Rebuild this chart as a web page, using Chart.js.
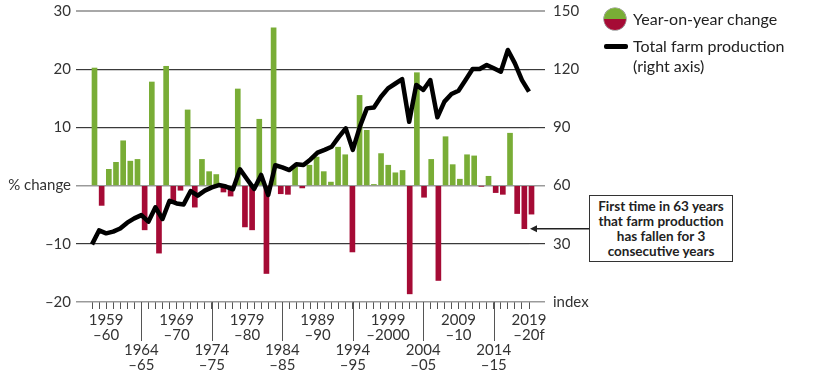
<!DOCTYPE html>
<html>
<head>
<meta charset="utf-8">
<script src="https://cdn.jsdelivr.net/npm/chart.js@4/dist/chart.umd.min.js"></script>
<style>
  html, body { margin: 0; padding: 0; background: #fff; }
  #wrap { position: relative; width: 816px; height: 380px; overflow: hidden; font-family: Lato, "Open Sans", sans-serif; color: #222; }
  #c { position: absolute; left: 0; top: 0; }
  .lg-dot { position: absolute; left: 604px; top: 8px; width: 22px; height: 22px; border-radius: 50%;
            background: linear-gradient(#79AD36 0, #79AD36 50%, #A50B35 50%, #A50B35 100%); box-shadow: 0 0 0 0.6px #777; }
  .lg-line { position: absolute; left: 604px; top: 44px; width: 24px; height: 5px; border-radius: 2px; background: #000; }
  .lg-text { position: absolute; left: 633px; font-size: 16px; line-height: 20px; color: #222; white-space: nowrap; }
  #note { position: absolute; left: 589px; top: 195px; width: 142px; height: 65px; border: 1.5px solid #333;
          font-weight: bold; font-size: 13.5px; line-height: 15px; text-align: center; color: #222;
          display: flex; align-items: center; justify-content: center; background: #fff; }
</style>
</head>
<body>
<div id="wrap">
  <canvas id="c" width="816" height="380"></canvas>
  <div class="lg-dot"></div>
  <div class="lg-text" style="top:9px">Year-on-year change</div>
  <div class="lg-line"></div>
  <div class="lg-text" style="top:36px">Total farm production<br>(right axis)</div>
  <div id="note"><div>First time in 63 years<br>that farm production<br>has fallen for 3<br>consecutive years</div></div>
</div>
<script>
// ---- Data ----
const seasons = [
  '1957–58','1958–59','1959–60','1960–61','1961–62','1962–63','1963–64','1964–65','1965–66','1966–67',
  '1967–68','1968–69','1969–70','1970–71','1971–72','1972–73','1973–74','1974–75','1975–76','1976–77',
  '1977–78','1978–79','1979–80','1980–81','1981–82','1982–83','1983–84','1984–85','1985–86','1986–87',
  '1987–88','1988–89','1989–90','1990–91','1991–92','1992–93','1993–94','1994–95','1995–96','1996–97',
  '1997–98','1998–99','1999–2000','2000–01','2001–02','2002–03','2003–04','2004–05','2005–06','2006–07',
  '2007–08','2008–09','2009–10','2010–11','2011–12','2012–13','2013–14','2014–15','2015–16','2016–17',
  '2017–18','2018–19','2019–20f'
];
// Total farm production index (right axis), one value per season
const production = [
  29.7, 36.9, 35.4, 36.3, 37.9, 40.9, 43.1, 44.8, 41.4, 48.8,
  42.8, 52.2, 50.8, 50.3, 57.2, 54.8, 57.4, 59.1, 60.3, 59.5,
  58.1, 68.4, 63.3, 58.3, 65.5, 55.2, 70.5, 69.4, 68.0, 71.0,
  70.6, 73.5, 77.0, 78.4, 80.0, 85.0, 89.5, 78.4, 90.3, 99.8,
  100.3, 105.8, 110.1, 112.5, 114.9, 92.9, 111.9, 109.3, 114.4, 95.2,
  103.3, 107.2, 108.9, 114.4, 120.1, 120.1, 122.2, 120.5, 118.7, 129.9,
  123.0, 114.4, 108.4
];
// Year-on-year change (%), seasons 1958–59 to 2019–20f
const changeSeasons = seasons.slice(1);
const changes = [
  20.2, -3.4, 2.8, 4.0, 7.7, 4.2, 4.5, -7.6, 17.8, -11.6,
  20.5, -2.6, -0.8, 13.0, -3.7, 4.5, 2.4, 1.9, -1.1, -1.8,
  16.6, -7.1, -7.6, 11.4, -15.1, 27.1, -1.4, -1.5, 3.2, -0.4,
  3.5, 4.9, 2.4, 0.6, 6.6, 5.3, -11.4, 15.5, 9.5, 0.2,
  5.5, 3.5, 2.2, 2.6, -18.6, 19.4, -2.0, 4.5, -16.3, 8.4,
  3.6, 1.1, 5.3, 5.1, -0.1, 1.6, -1.2, -1.5, 9.0, -4.8,
  -7.4, -4.9
];
// Tick labels
const upperTickLabels = [
  ['1959–60', '1959', '–60'], ['1969–70', '1969', '–70'], ['1979–80', '1979', '–80'],
  ['1989–90', '1989', '–90'], ['1999–2000', '1999', '–2000'], ['2009–10', '2009', '–10'],
  ['2019–20f', '2019', '–20f']
];
const lowerTickLabels = [
  ['1964–65', '1964', '–65'], ['1974–75', '1974', '–75'], ['1984–85', '1984', '–85'],
  ['1994–95', '1994', '–95'], ['2004–05', '2004', '–05'], ['2014–15', '2014', '–15']
];
const leftTicks = [-20, -10, 0, 10, 20, 30];
const rightTicks = [0, 30, 60, 90, 120, 150];

const GREEN = '#79AD36', RED = '#A50B35';
const FONT = 'Lato, "Open Sans", sans-serif';

function gridColor(v, isLeft) {
  if (v === (isLeft ? 30 : 150)) return '#a8a8a8';
  if (v === (isLeft ? 0 : 60) || v === (isLeft ? -20 : 0)) return '#9a9a9a';
  return '#3a3a3a';
}
function gridWidth(v, isLeft) {
  if (v === (isLeft ? 30 : 150)) return 2;
  if (v === (isLeft ? 0 : 60) || v === (isLeft ? -20 : 0)) return 1.5;
  return 1.2;
}

const decorPlugin = {
  id: 'decor',
  afterDraw(chart) {
    const ctx = chart.ctx;
    const xs = chart.scales.x, xb = chart.scales.xBar, ys = chart.scales.y;
    const bottom = chart.chartArea.bottom;
    ctx.save();
    // long ticks under the lower-row labels
    ctx.strokeStyle = '#555';
    ctx.lineWidth = 1;
    lowerTickLabels.forEach(l => {
      const i = seasons.indexOf(l[0]);
      const px = Math.round(xs.getPixelForValue(i)) + 0.5;
      ctx.beginPath();
      ctx.moveTo(px, bottom);
      ctx.lineTo(px, bottom + 39);
      ctx.stroke();
    });
    // arrow from the note box to the 2018–19 bar
    const target = changeSeasons.indexOf('2018–19');
    const ay = ys.getPixelForValue(changes[target]);
    const tipX = xb.getPixelForValue(changes.length - 1) + 1;
    ctx.strokeStyle = '#222';
    ctx.fillStyle = '#222';
    ctx.lineWidth = 1.5;
    ctx.beginPath();
    ctx.moveTo(589, ay);
    ctx.lineTo(tipX + 5, ay);
    ctx.stroke();
    ctx.beginPath();
    ctx.moveTo(tipX, ay);
    ctx.lineTo(tipX + 7, ay - 3.5);
    ctx.lineTo(tipX + 7, ay + 3.5);
    ctx.closePath();
    ctx.fill();
    ctx.restore();
  }
};

function fixY(width) {
  return s => { s.width = width; s.paddingTop = 0; s.paddingBottom = 0; };
}

new Chart(document.getElementById('c'), {
  type: 'bar',
  data: {
    labels: seasons,
    datasets: [
      {
        type: 'line',
        label: 'Total farm production (right axis)',
        data: production,
        xAxisID: 'x',
        yAxisID: 'y1',
        borderColor: '#000',
        borderWidth: 4.5,
        borderJoinStyle: 'round',
        borderCapStyle: 'butt',
        pointRadius: 0,
        tension: 0,
        clip: false,
        order: 0
      },
      {
        type: 'bar',
        label: 'Year-on-year change',
        data: changes,
        xAxisID: 'xBar',
        yAxisID: 'y',
        backgroundColor: ctx => (ctx.raw >= 0 ? GREEN : RED),
        borderWidth: 0,
        barThickness: 5,
        clip: false,
        order: 1
      }
    ]
  },
  options: {
    responsive: false,
    animation: false,
    devicePixelRatio: 1,
    layout: { padding: { top: 11, left: 0, right: 0, bottom: 0 } },
    plugins: { legend: { display: false }, tooltip: { enabled: false } },
    scales: {
      x: {
        type: 'category',
        position: 'bottom',
        offset: false,
        grid: { offset: false, drawOnChartArea: false, drawTicks: true, tickLength: 7, tickColor: '#555', tickWidth: 1 },
        border: { display: false },
        ticks: {
          autoSkip: false, maxRotation: 0, minRotation: 0, padding: 4,
          color: '#333',
          font: { family: FONT, size: 15, lineHeight: '15px' },
          callback: (value, index) => {
            const s = seasons[index];
            const u = upperTickLabels.find(l => l[0] === s);
            if (u) return [u[1], u[2]];
            const lo = lowerTickLabels.find(l => l[0] === s);
            if (lo) return ['', '', lo[1], lo[2]];
            return '';
          }
        },
        afterFit: s => { s.height = 78; s.paddingLeft = 0; s.paddingRight = 0; }
      },
      xBar: {
        type: 'category',
        labels: changeSeasons,
        display: false,
        offset: false,
        grid: { offset: false }
      },
      y: {
        position: 'left',
        min: -20, max: 30,
        afterBuildTicks: s => { s.ticks = leftTicks.map(v => ({ value: v })); },
        ticks: {
          padding: 5, color: '#333',
          font: { family: FONT, size: 15 },
          callback: v => (v === 0 ? '% change' : (v < 0 ? '–' + Math.abs(v) : String(v)))
        },
        grid: {
          color: c => gridColor(c.tick.value, true),
          lineWidth: c => gridWidth(c.tick.value, true),
          tickLength: 16, drawTicks: true
        },
        border: { display: false },
        afterFit: fixY(92)
      },
      y1: {
        position: 'right',
        min: 0, max: 150,
        afterBuildTicks: s => { s.ticks = rightTicks.map(v => ({ value: v })); },
        ticks: {
          padding: 8, color: '#333',
          font: { family: FONT, size: 15 },
          callback: v => (v === 0 ? 'index' : String(v))
        },
        grid: {
          drawOnChartArea: false,
          color: c => gridColor(c.tick.value, false),
          lineWidth: c => gridWidth(c.tick.value, false),
          tickLength: 16, drawTicks: true
        },
        border: { display: false },
        afterFit: fixY(287)
      }
    }
  },
  plugins: [decorPlugin]
});
</script>
</body>
</html>
